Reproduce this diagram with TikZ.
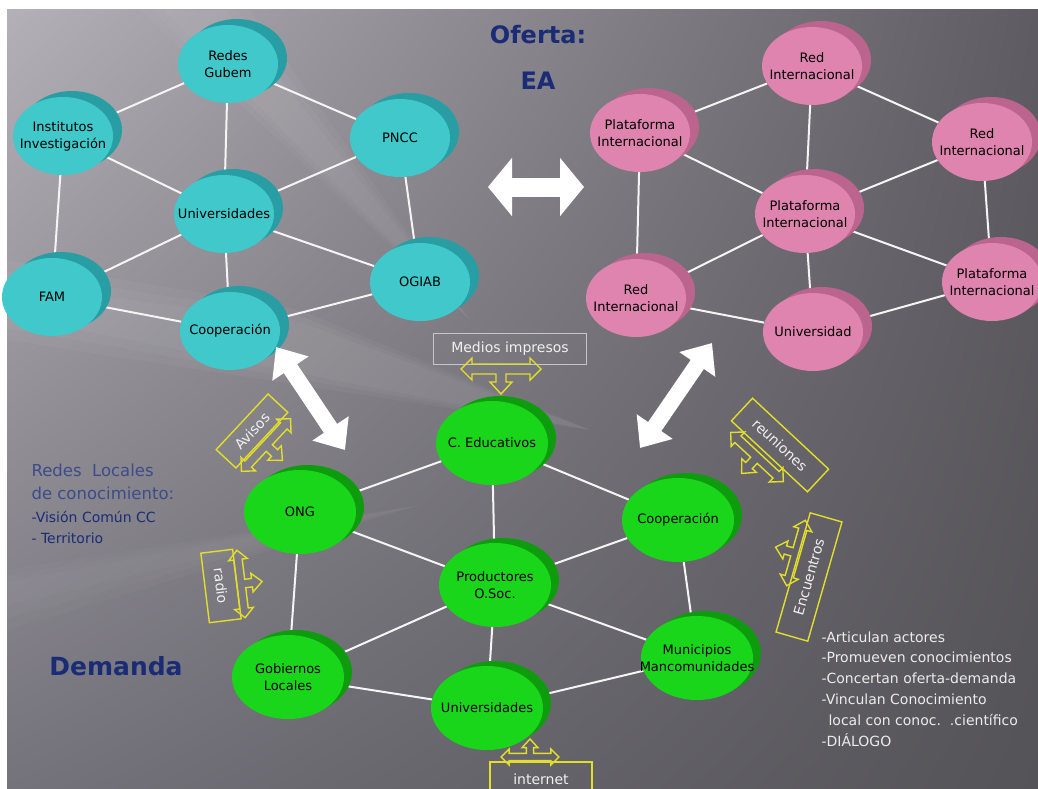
\documentclass[tikz,border=0pt]{standalone}
\usepackage{fontspec}
\setmainfont{DejaVu Sans}
\usetikzlibrary{arrows.meta, positioning, shapes.geometric, shadows, shadings}

\definecolor{cianA}{RGB}{64,200,202}
\definecolor{cianB}{RGB}{40,158,164}
\definecolor{rosaA}{RGB}{222,132,174}
\definecolor{rosaB}{RGB}{186,100,142}
\definecolor{verdeA}{RGB}{26,214,26}
\definecolor{verdeB}{RGB}{14,156,14}
\definecolor{azulT}{RGB}{26,44,118}
\definecolor{amarillo}{RGB}{226,222,42}
\definecolor{fondoUL}{RGB}{180,176,184}
\definecolor{fondoUR}{RGB}{94,92,98}
\definecolor{fondoLL}{RGB}{116,114,122}
\definecolor{fondoLR}{RGB}{84,83,88}

\pgfdeclarelayer{fondo}
\pgfdeclarelayer{lineas}
\pgfsetlayers{fondo,lineas,main}

\tikzset{
  disco/.style={ellipse, inner xsep=-18pt, inner ysep=0pt, minimum width=100pt,
    minimum height=78pt, align=center, text=black, font=\fontsize{13}{17}\selectfont},
  cian/.style={disco, fill=cianA,
    copy shadow={shadow xshift=9pt, shadow yshift=6pt, fill=cianB, draw=none}},
  rosa/.style={disco, fill=rosaA,
    copy shadow={shadow xshift=9pt, shadow yshift=6pt, fill=rosaB, draw=none}},
  verde/.style={disco, minimum width=112pt, minimum height=84pt, fill=verdeA,
    copy shadow={shadow xshift=8pt, shadow yshift=5pt, fill=verdeB, draw=none}},
  enlace/.style={draw=white!92!gray, line width=2pt},
  gordo/.style={white, line width=16pt, >={Triangle[width=42pt,length=26pt]}, <->},
  medio/.style={draw=amarillo, line width=1.4pt, inner sep=2pt, text=white!88!gray,
    font=\fontsize{14}{15}\selectfont},
  flecha3/.pic={
    \draw[amarillo, line width=1.4pt]
      (-40,0) -- (-29,-11) -- (-29,-5) -- (29,-5) -- (29,-11) -- (40,0) -- (29,11) -- (29,5)
      -- (5,5) -- (5,13) -- (11,13) -- (0,25) -- (-11,13) -- (-5,13) -- (-5,5)
      -- (-29,5) -- (-29,11) -- cycle;
  }
}

\begin{document}
\begin{tikzpicture}[x=1pt, y=-1pt]
\useasboundingbox (0,0) rectangle (1038,789);
\clip (0,0) rectangle (1038,789);

% fondo
\begin{pgfonlayer}{fondo}
  \fill[white] (0,0) rectangle (1038,789);
  \shade[upper left=fondoUL, upper right=fondoUR, lower left=fondoLL, lower right=fondoLR]
    (7,10) rectangle (1038,789);
  \foreach \d in {0,12,24} {
    \fill[white, opacity=0.035] (7,260+\d) -- (300,310+\d/2) -- (590,430) -- (7,340-\d) -- cycle;
    \fill[white, opacity=0.03] (140+\d,10) -- (250-\d,10) -- (470,320) -- cycle;
    \fill[white, opacity=0.025] (7,570+\d/2) -- (420,505) -- (7,630-\d) -- cycle;
  }
\end{pgfonlayer}

% oferta nacional
\node[cian] (redes) at (228,64) {Redes\\Gubem};
\node[cian] (inst) at (63,136) {Institutos\\Investigación};
\node[cian] (pncc) at (400,138) {PNCC};
\node[cian] (univ) at (224,214) {Universidades};
\node[cian] (fam) at (52,297) {FAM};
\node[cian] (coop) at (230,331) {Cooperación};
\node[cian] (ogiab) at (420,282) {OGIAB};

% oferta internacional
\node[rosa] (redA) at (812,66) {Red\\Internacional};
\node[rosa] (plataA) at (640,133) {Plataforma\\Internacional};
\node[rosa] (redB) at (982,142) {Red\\Internacional};
\node[rosa] (plataB) at (805,214) {Plataforma\\Internacional};
\node[rosa] (redC) at (636,298) {Red\\Internacional};
\node[rosa] (plataC) at (992,282) {Plataforma\\Internacional};
\node[rosa] (univP) at (813,332) {Universidad};

% demanda
\node[verde] (educ) at (492,443) {C. Educativos};
\node[verde] (ong) at (300,512) {ONG};
\node[verde] (coopV) at (678,520) {Cooperación};
\node[verde] (prod) at (495,585) {Productores\\O.Soc.};
\node[verde] (gob) at (288,677) {Gobiernos\\Locales};
\node[verde] (muni) at (697,658) {Municipios\\Mancomunidades};
\node[verde] (univV) at (487,708) {Universidades};

\begin{pgfonlayer}{lineas}
  \draw[enlace] (redes) -- (inst);
  \draw[enlace] (redes) -- (pncc);
  \draw[enlace] (redes) -- (univ);
  \draw[enlace] (inst) -- (univ);
  \draw[enlace] (inst) -- (fam);
  \draw[enlace] (pncc) -- (univ);
  \draw[enlace] (pncc) -- (ogiab);
  \draw[enlace] (univ) -- (fam);
  \draw[enlace] (univ) -- (coop);
  \draw[enlace] (univ) -- (ogiab);
  \draw[enlace] (fam) -- (coop);
  \draw[enlace] (ogiab) -- (coop);

  \draw[enlace] (redA) -- (plataA);
  \draw[enlace] (redA) -- (redB);
  \draw[enlace] (redA) -- (plataB);
  \draw[enlace] (plataA) -- (plataB);
  \draw[enlace] (plataA) -- (redC);
  \draw[enlace] (redB) -- (plataB);
  \draw[enlace] (redB) -- (plataC);
  \draw[enlace] (plataB) -- (redC);
  \draw[enlace] (plataB) -- (univP);
  \draw[enlace] (plataB) -- (plataC);
  \draw[enlace] (redC) -- (univP);
  \draw[enlace] (plataC) -- (univP);

  \draw[enlace] (educ) -- (ong);
  \draw[enlace] (educ) -- (coopV);
  \draw[enlace] (educ) -- (prod);
  \draw[enlace] (ong) -- (prod);
  \draw[enlace] (ong) -- (gob);
  \draw[enlace] (coopV) -- (prod);
  \draw[enlace] (coopV) -- (muni);
  \draw[enlace] (prod) -- (gob);
  \draw[enlace] (prod) -- (muni);
  \draw[enlace] (prod) -- (univV);
  \draw[enlace] (gob) -- (univV);
  \draw[enlace] (muni) -- (univV);
\end{pgfonlayer}

% flechas grandes
\coordinate (hA) at (488,187);
\coordinate (hB) at (584,187);
\coordinate (dA) at (276,347);
\coordinate (dB) at (345,450);
\coordinate (eA) at (712,343);
\coordinate (eB) at (640,448);
\draw[gordo, line width=19pt, >={Triangle[width=57pt,length=24pt]}] (hA) -- (hB);
\draw[gordo] (dA) -- (dB);
\draw[gordo] (eA) -- (eB);

% medios
\node[medio, draw=gray!45, line width=0.8pt, minimum width=153pt, minimum height=31pt]
  (medios) at (510,349) {Medios impresos};
\pic at (501,369) {flecha3};
\node[medio, minimum width=102pt, minimum height=34pt] (internet) at (541,779) {internet};
\pic[rotate=180, scale=0.72] at (530,757) {flecha3};
\node[medio, rotate=47, minimum width=76pt, minimum height=27pt] (avisos) at (252,431) {Avisos};
\pic[rotate=47, scale=0.9] at (266,445) {flecha3};
\node[medio, rotate=-83, minimum width=70pt, minimum height=32pt] (radio) at (221,586) {radio};
\pic[rotate=97, scale=0.85] at (241,584) {flecha3};
\node[medio, rotate=-43, minimum width=104pt, minimum height=31pt] (reuniones) at (780,445) {reuniones};
\pic[rotate=-43, scale=0.9] at (757,457) {flecha3};
\node[medio, rotate=74, minimum width=124pt, minimum height=33pt] (encuentros) at (809,577) {Encuentros};
\pic[rotate=-106, scale=0.85] at (796,553) {flecha3};

% textos
\node[font=\fontsize{24}{46}\selectfont\bfseries, text=azulT, align=center] (oferta) at (538,57) {Oferta:\\EA};
\node[font=\fontsize{25}{30}\selectfont\bfseries, text=azulT] (demanda) at (116,666) {Demanda};
\node[font=\fontsize{16.5}{23}\selectfont, text=azulT!85!white, align=left, anchor=north west]
  (redesloc) at (28,460) {Redes\ \ Locales\\de conocimiento:};
\node[font=\fontsize{14}{21}\selectfont, text=azulT, align=left, anchor=north west]
  (vision) at (28,508) {-Visión Común CC\\- Territorio};
\node[font=\fontsize{14}{20.8}\selectfont, text=white!85!gray, align=left, anchor=north west]
  (lista) at (818,628) {-Articulan actores\\-Promueven conocimientos\\-Concertan oferta-demanda\\-Vinculan Conocimiento\\\hspace*{7pt}local con conoc.\ \ .científico\\-DIÁLOGO};

\end{tikzpicture}
\end{document}
